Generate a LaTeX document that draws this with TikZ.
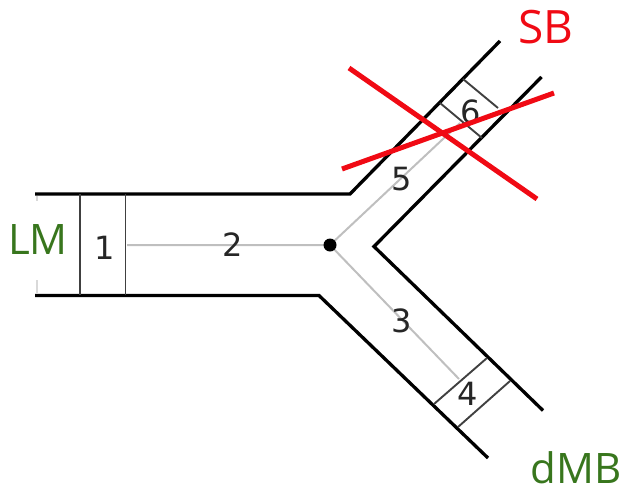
\documentclass[tikz,border=0pt]{standalone}
\usepackage{fontspec}
\setmainfont{Open Sans}
\newfontfamily\numfont{DejaVu Sans}
\definecolor{lblgreen}{RGB}{56,118,29}
\definecolor{lblred}{RGB}{240,10,20}
\tikzset{
  wall/.style={line width=3.3pt,black,line join=miter},
  cross/.style={line width=1.9pt,black!75},
  axis/.style={line width=2pt,black!25},
  faint/.style={line width=1.2pt,black!15},
  redx/.style={line width=5pt,lblred},
  num/.style={font=\numfont\fontsize{32}{32}\selectfont,text=black!85,inner sep=0pt},
  big/.style={font=\fontsize{42}{42}\selectfont,inner sep=0pt}
}
\begin{document}
\begin{tikzpicture}[x=1pt,y=-1pt]
\useasboundingbox (0,0) rectangle (623,490);
\coordinate (hub) at (330,245);
% faint end marks
\draw[faint] (37,196) -- (37,201);
\draw[faint] (37,280) -- (37,293);
% axes
\draw[axis] (127,245) -- (hub) -- (459,379);
\draw[axis] (hub) -- (460,123);
% walls
\draw[wall] (35,194) -- (350,194) -- (500,41);
\draw[wall] (35,295.5) -- (319,295.5) -- (488,458);
\draw[wall] (541.5,77) -- (374,246.5) -- (543,410.5);
% cross sections
\draw[cross] (80,194) -- (80,295);
\draw[cross] (125.5,194) -- (125.5,295);
\draw[cross] (434,404) -- (487,358);
\draw[cross] (458,427) -- (510,381);
\draw[cross] (440,103) -- (482,138);
\draw[cross] (463,79) -- (498,108);
\fill[black] (hub) circle (6.5);
% numbers
\node[num] (n1) at (105,248) {1};
\node[num] (n2) at (233,245) {2};
\node[num] (n3) at (402,321) {3};
\node[num] (n4) at (468,394) {4};
\node[num] (n5) at (402,179) {5};
\node[num] (n6) at (471,112) {6};
% red cross
\draw[redx] (349,68) -- (537,199);
\draw[redx] (342,169) -- (554,93);
% labels
\node[big,text=lblgreen] (lm) at (38,240) {LM};
\node[big,text=lblred,font=\fontsize{46}{46}\selectfont] (sb) at (546,27) {SB};
\node[big,text=lblgreen] (dmb) at (576,468) {dMB};
\end{tikzpicture}
\end{document}
